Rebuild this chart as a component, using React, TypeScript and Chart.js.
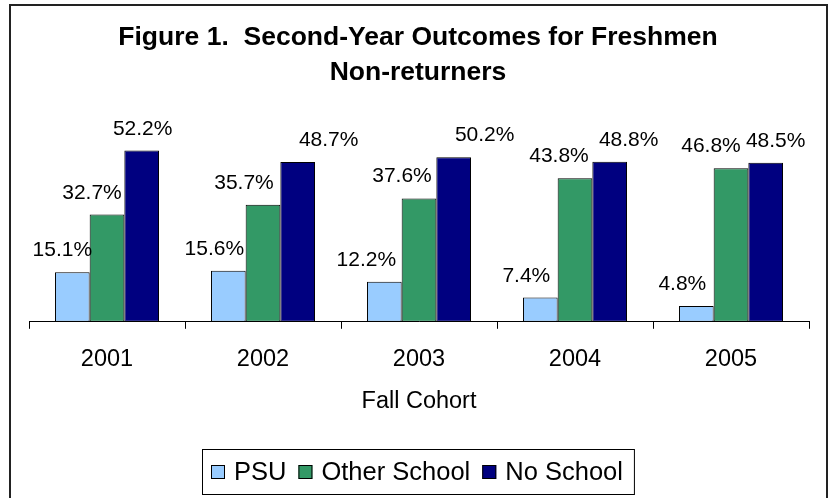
import React, { useEffect, useRef } from 'react';
import { Chart, registerables } from 'chart.js';

Chart.register(...registerables);

const CATEGORIES = ['2001', '2002', '2003', '2004', '2005'];
const PSU = [15.1, 15.6, 12.2, 7.4, 4.8];
const OTHER_SCHOOL = [32.7, 35.7, 37.6, 43.8, 46.8];
const NO_SCHOOL = [52.2, 48.7, 50.2, 48.8, 48.5];
const SERIES_NAMES = ['PSU', 'Other School', 'No School'];
const SERIES_COLORS = ['#99CCFF', '#339966', '#000080'];
const TITLE_LINES = ['Figure 1.  Second-Year Outcomes for Freshmen', 'Non-returners'];
const X_TITLE = 'Fall Cohort';
const Y_MAX = 60;

const FONT = "'Liberation Sans', Arial, Helvetica, sans-serif";
// horizontal nudges of the value labels relative to their bar centres (style only)
const LABEL_NUDGE = [
  [-10, -14, -18, -14, -14],
  [-15, -19, -17, -16, -20],
  [1, 31, 31, 19, 10],
];

const decor = {
  id: 'decor',
  afterDraw(chart: any) {
    const ctx = chart.ctx as CanvasRenderingContext2D;
    const area = chart.chartArea;
    ctx.save();
    // outer frame
    ctx.strokeStyle = '#222';
    ctx.lineWidth = 2;
    ctx.beginPath();
    ctx.moveTo(10, 520);
    ctx.lineTo(10, 5);
    ctx.lineTo(827, 5);
    ctx.lineTo(827, 520);
    ctx.stroke();

    // title
    ctx.fillStyle = '#000';
    ctx.textAlign = 'center';
    ctx.textBaseline = 'alphabetic';
    ctx.font = `bold 26.5px ${FONT}`;
    const cx = (area.left + area.right) / 2;
    TITLE_LINES.forEach((t, i) => ctx.fillText(t, cx - 1, 45 + i * 35));

    // x axis title
    ctx.font = `23.5px ${FONT}`;
    ctx.fillText(X_TITLE, cx, 408);

    // data labels
    ctx.font = `21px ${FONT}`;
    chart.data.datasets.forEach((ds: any, di: number) => {
      const meta = chart.getDatasetMeta(di);
      meta.data.forEach((bar: any, i: number) => {
        const v = ds.data[i] as number;
        ctx.fillText(v.toFixed(1) + '%', bar.x + LABEL_NUDGE[di][i], bar.y - 16);
      });
    });

    // legend
    ctx.font = `25.5px ${FONT}`;
    const box = 14;
    const padL = 9, padR = 11, gapBoxText = 9, gapItems = 12;
    const widths = chart.data.datasets.map((ds: any) => ctx.measureText(ds.label).width);
    let total = padL + padR;
    widths.forEach((w: number, i: number) => {
      total += box + gapBoxText + w + (i < widths.length - 1 ? gapItems : 0);
    });
    const lcx = 417.5;
    const top = 449, h = 45;
    const left = Math.round(lcx - total / 2);
    ctx.lineWidth = 1;
    ctx.strokeStyle = '#000';
    ctx.strokeRect(left + 0.5, top + 0.5, total, h);
    let x = left + padL;
    const midY = top + h / 2 + 0.5;
    ctx.textAlign = 'left';
    ctx.textBaseline = 'middle';
    chart.data.datasets.forEach((ds: any, i: number) => {
      ctx.fillStyle = ds.backgroundColor;
      ctx.fillRect(x, midY - box / 2, box, box);
      ctx.strokeStyle = '#000';
      ctx.strokeRect(x + 0.5, midY - box / 2 + 0.5, box - 1, box - 1);
      x += box + gapBoxText;
      ctx.fillStyle = '#000';
      ctx.fillText(ds.label, x, midY + 1);
      x += widths[i] + gapItems;
    });
    ctx.restore();
  },
};

export default function App() {
  const ref = useRef<HTMLCanvasElement | null>(null);
  useEffect(() => {
    if (!ref.current) return;
    const seriesData = [PSU, OTHER_SCHOOL, NO_SCHOOL];
    const chart = new Chart(ref.current, {
      type: 'bar',
      data: {
        labels: CATEGORIES,
        datasets: seriesData.map((d, i) => ({
          label: SERIES_NAMES[i],
          data: d,
          backgroundColor: SERIES_COLORS[i],
          borderColor: '#000',
          borderWidth: 1,
          borderSkipped: false as any,
          categoryPercentage: 0.667,
          barPercentage: 1.0,
        })),
      },
      options: {
        animation: false,
        responsive: false,
        maintainAspectRatio: false,
        devicePixelRatio: 1,
        layout: { padding: { left: 29, right: 21, top: 125, bottom: 107 } },
        plugins: {
          legend: { display: false },
          title: { display: false },
          tooltip: { enabled: false },
        },
        scales: {
          x: {
            offset: true,
            grid: {
              display: true,
              offset: true,
              drawOnChartArea: false,
              drawTicks: true,
              tickLength: 7,
              color: '#000',
            },
            border: { display: true, color: '#000', width: 1 },
            ticks: {
              color: '#000',
              padding: 17,
              font: { family: FONT, size: 23.5 },
            },
            title: { display: false },
          },
          y: {
            display: false,
            min: 0,
            max: Y_MAX,
          },
        },
      },
      plugins: [decor],
    });
    return () => chart.destroy();
  }, []);
  return (
    <div style={{ position: 'absolute', left: 0, top: 0, width: 830, height: 498, background: '#fff' }}>
      <canvas ref={ref} width={830} height={498} style={{ display: 'block', width: 830, height: 498 }} />
    </div>
  );
}
